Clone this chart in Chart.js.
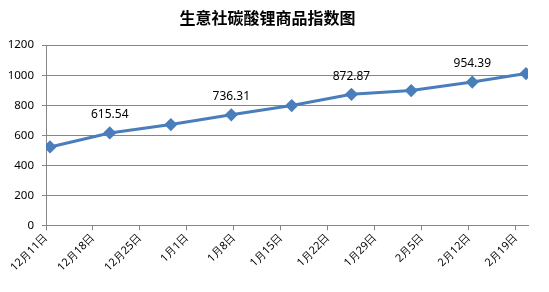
<!DOCTYPE html>
<html>
<head>
<meta charset="utf-8">
<script src="https://cdn.jsdelivr.net/npm/chart.js@4/dist/chart.umd.min.js"></script>
<style>
  html, body { margin: 0; padding: 0; background: #fff; }
  #wrap { width: 549px; height: 292px; }
</style>
</head>
<body>
<div id="wrap"><canvas id="c"></canvas></div>
<script>
// days after 12月11日 at which each index reading sits
const days = [0.6, 9.5, 18.6, 27.6, 36.6, 45.5, 54.4, 63.5, 71.5];
const indexValues = [522, 615.54, 671, 736.31, 798, 872.87, 898, 954.39, 1011];
const labelledPoints = [1, 3, 5, 7];
const tickLabels = ['12月11日', '12月18日', '12月25日', '1月1日', '1月8日', '1月15日',
                    '1月22日', '1月29日', '2月5日', '2月12日', '2月19日'];

const pointLabels = {
    id: 'pointLabels',
    afterDatasetsDraw(chart) {
        const ctx = chart.ctx;
        const meta = chart.getDatasetMeta(0);
        ctx.save();
        ctx.font = '12px "Noto Sans"';
        ctx.fillStyle = '#000';
        ctx.textAlign = 'center';
        ctx.textBaseline = 'middle';
        labelledPoints.forEach(i => {
            const p = meta.data[i];
            ctx.fillText(indexValues[i].toFixed(2), p.x, p.y - 18);
        });
        ctx.restore();
    }
};

new Chart(document.getElementById('c'), {
    type: 'line',
    data: {
        datasets: [{
            data: days.map((d, i) => ({ x: d, y: indexValues[i] })),
            borderColor: '#4a7ebb',
            backgroundColor: '#4a7ebb',
            borderWidth: 3,
            pointStyle: 'rectRot',
            pointRadius: 4.5,
            tension: 0
        }]
    },
    options: {
        responsive: true,
        maintainAspectRatio: false,
        animation: false,
        layout: { padding: { left: 7, right: 21, top: 4, bottom: 17 } },
        plugins: {
            legend: { display: false },
            tooltip: { enabled: false },
            title: {
                display: true,
                text: '生意社碳酸锂商品指数图',
                color: '#000',
                font: { family: '"Noto Sans CJK SC"', size: 16, weight: 'bold' },
                padding: { top: 4, bottom: 18 }
            }
        },
        scales: {
            x: {
                type: 'linear',
                min: 0,
                max: 71.8,
                afterBuildTicks(axis) {
                    axis.ticks = tickLabels.map((t, i) => ({ value: i * 7 }));
                },
                afterFit(axis) {
                    axis.paddingLeft = 0;
                    axis.paddingRight = 0;
                },
                ticks: {
                    color: '#000',
                    font: { family: '"Noto Sans"', size: 11 },
                    maxRotation: 45,
                    minRotation: 45,
                    autoSkip: false,
                    padding: 1,
                    callback: (v) => tickLabels[Math.round(v / 7)]
                },
                grid: { drawOnChartArea: false, color: '#868686', tickLength: 5 },
                border: { color: '#868686' }
            },
            y: {
                min: 0,
                max: 1200,
                afterFit(axis) {
                    axis.width = 39;
                },
                ticks: {
                    stepSize: 200,
                    color: '#000',
                    font: { family: '"Noto Sans"', size: 11.5 },
                    padding: 8,
                    callback: (v) => String(v)
                },
                grid: { color: '#868686', tickLength: 4 },
                border: { color: '#868686' }
            }
        }
    },
    plugins: [pointLabels]
});
</script>
</body>
</html>
